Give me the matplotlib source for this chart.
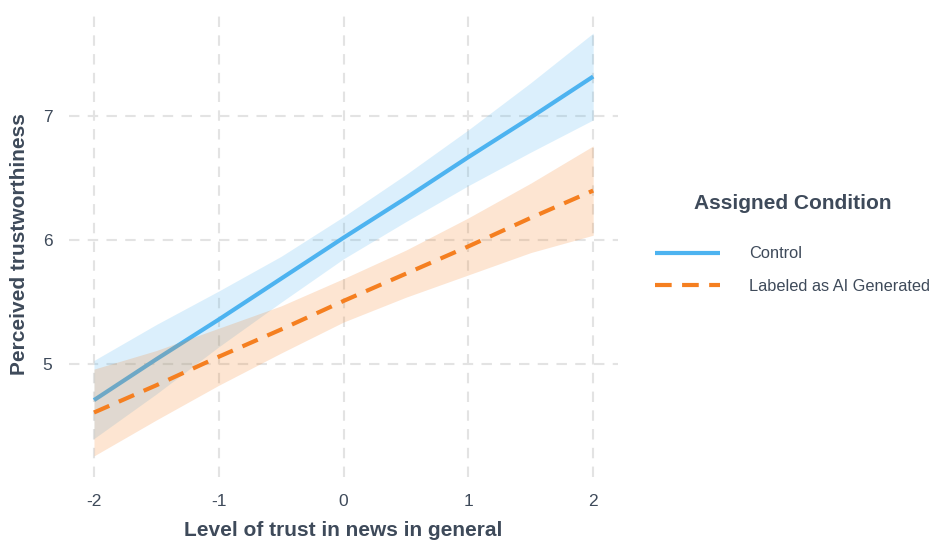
import numpy as np
import matplotlib.pyplot as plt

plt.rcParams['font.family'] = ['Liberation Sans', 'DejaVu Sans']

# predicted values
trust = [-2, -1.5, -1, -0.5, 0, 0.5, 1, 1.5, 2]

control_fit = [4.71, 5.04, 5.36, 5.69, 6.02, 6.34, 6.67, 6.99, 7.32]
control_lo = [4.40, 4.76, 5.14, 5.50, 5.85, 6.15, 6.44, 6.71, 6.97]
control_hi = [5.03, 5.32, 5.59, 5.87, 6.19, 6.53, 6.89, 7.27, 7.67]

ai_fit = [4.61, 4.83, 5.06, 5.28, 5.51, 5.73, 5.95, 6.18, 6.40]
ai_lo = [4.26, 4.55, 4.83, 5.09, 5.34, 5.54, 5.72, 5.90, 6.04]
ai_hi = [4.96, 5.11, 5.29, 5.47, 5.69, 5.92, 6.18, 6.46, 6.76]

x_ticks = [-2, -1, 0, 1, 2]
y_ticks = [5, 6, 7]

blue = '#4DB3F0'
orange = '#F57F20'
text_col = '#3E4A5A'

fig = plt.figure(figsize=(9.38, 5.4), dpi=100)
ax = fig.add_axes([0.0736, 0.1167, 0.5854, 0.8633])

ax.fill_between(trust, control_lo, control_hi, color=blue, alpha=0.2, lw=0, zorder=2)
ax.plot(trust, control_fit, color=blue, lw=3, solid_capstyle='butt', zorder=3, label='Control')
ax.fill_between(trust, ai_lo, ai_hi, color=orange, alpha=0.2, lw=0, zorder=4)
ax.plot(trust, ai_fit, color=orange, lw=3, dashes=(4, 2.5), zorder=5, label='Labeled as AI Generated')

ax.set_xlim(-2.2, 2.2)
ax.set_ylim(4.09, 7.85)
ax.set_xticks(x_ticks)
ax.set_xticklabels([str(v) for v in x_ticks])
ax.set_yticks(y_ticks)
ax.grid(True, color='#E3E3E3', lw=1.5, ls=(0, (5, 4)), zorder=0)
ax.set_axisbelow(True)
for s in ax.spines.values():
    s.set_visible(False)
ax.tick_params(length=0, labelsize=12.5, colors=text_col, pad=12)
ax.tick_params(axis='y', pad=12)

ax.set_xlabel('Level of trust in news in general', fontsize=15, fontweight='bold', color=text_col, labelpad=9)
ax.set_ylabel('Perceived trustworthiness', fontsize=15, fontweight='bold', color=text_col, labelpad=10)

leg = ax.legend(loc='center left', bbox_to_anchor=(1.067, 0.5), frameon=False,
                title='Assigned Condition', fontsize=11.8, handlelength=4.0, handletextpad=1.75,
                labelspacing=1.05, labelcolor=text_col, borderpad=0, borderaxespad=0)
leg.get_title().set_fontsize(15)
leg.get_title().set_fontweight('bold')
leg.get_title().set_color(text_col)
leg._legend_box.sep = 24

fig.savefig('out.png', dpi=100)
